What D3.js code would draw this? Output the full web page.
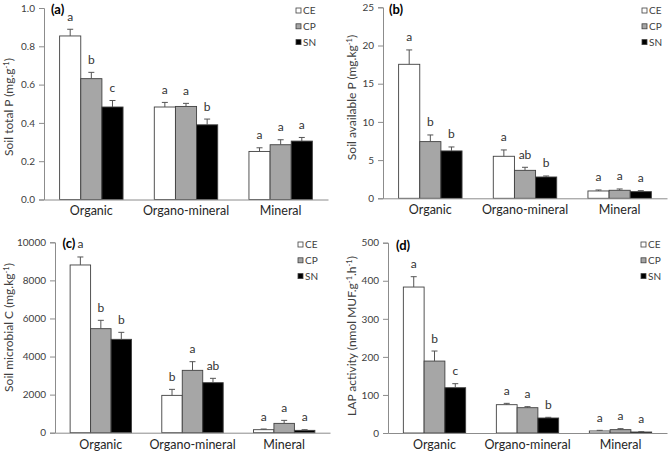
<!DOCTYPE html>
<html><head><meta charset="utf-8">
<script src="https://cdn.jsdelivr.net/npm/d3@7"></script>
<style>
html,body{margin:0;padding:0;background:#fff;}
svg{display:block;font-family:Lato,"Open Sans",sans-serif;}
</style></head>
<body>
<svg id="chart" width="669" height="465"></svg>
<script>
// ---------- data ----------
const categories = ["Organic", "Organo-mineral", "Mineral"];
const seriesNames = ["CE", "CP", "SN"];
const seriesColors = ["#ffffff", "#a6a6a6", "#000000"];

// values per category: [CE, CP, SN]
const totalPValues = [[0.854, 0.631, 0.483], [0.483, 0.486, 0.390], [0.251, 0.286, 0.305]];
const totalPErrors = [[0.035, 0.033, 0.034], [0.024, 0.016, 0.030], [0.019, 0.026, 0.019]];
const totalPLetters = [["a", "b", "c"], ["a", "a", "b"], ["a", "a", "a"]];
const totalPTicks = [0, 0.2, 0.4, 0.6, 0.8, 1.0];

const availPValues = [[17.54, 7.42, 6.20], [5.50, 3.66, 2.79], [0.96, 1.05, 0.87]];
const availPErrors = [[1.88, 0.87, 0.52], [0.83, 0.40, 0.13], [0.13, 0.17, 0.13]];
const availPLetters = [["a", "b", "b"], ["a", "ab", "b"], ["a", "a", "a"]];
const availPTicks = [0, 5, 10, 15, 20, 25];

const microCValues = [[8809, 5464, 4904], [1961, 3275, 2627], [158, 490, 123]];
const microCErrors = [[420, 438, 367], [316, 455, 228], [35, 158, 35]];
const microCLetters = [["a", "b", "b"], ["b", "a", "ab"], ["a", "a", "a"]];
const microCTicks = [0, 2000, 4000, 6000, 8000, 10000];

const lapValues = [[383.5, 189, 119], [74.4, 66.5, 39.4], [5.3, 8.8, 2.6]];
const lapErrors = [[27.2, 26.4, 10.6], [3.5, 2.7, 1.8], [1.7, 2.6, 0.9]];
const lapLetters = [["a", "b", "c"], ["a", "a", "b"], ["a", "a", "a"]];
const lapTicks = [0, 100, 200, 300, 400, 500];

// ---------- layout ----------
const panels = [
  {tag: "(a)", values: totalPValues, errors: totalPErrors, letters: totalPLetters, ticks: totalPTicks,
   fmt: d3.format(".1f"), title: ["Soil total P (mg.g", "-1", ")"],
   x0: 44, x1: 328, yTop: 8, yBot: 199.5, titleX: 9, titleY: 107, tagX: 51, tagY: 14, legX: 296, legY: 10.5},
  {tag: "(b)", values: availPValues, errors: availPErrors, letters: availPLetters, ticks: availPTicks,
   fmt: d3.format("d"), title: ["Soil available P (mg.kg", "-1", ")"],
   x0: 383, x1: 667, yTop: 7.3, yBot: 198.3, titleX: 352, titleY: 97.5, tagX: 389, tagY: 14, legX: 642, legY: 10.5},
  {tag: "(c)", values: microCValues, errors: microCErrors, letters: microCLetters, ticks: microCTicks,
   fmt: d3.format("d"), title: ["Soil microbial C (mg.kg", "-1", ")"],
   x0: 55, x1: 330, yTop: 242.3, yBot: 432.7, titleX: 9, titleY: 327.5, tagX: 62.5, tagY: 247.5, legX: 298, legY: 244.5},
  {tag: "(d)", values: lapValues, errors: lapErrors, letters: lapLetters, ticks: lapTicks,
   fmt: d3.format("d"), title: ["LAP activity (nmol MUF.g", "-1", ".h", "-1", ")"],
   x0: 388, x1: 667, yTop: 242.7, yBot: 433, titleX: 352, titleY: 336, tagX: 396, tagY: 249.5, legX: 641, legY: 244.5}
];

const svg = d3.select("#chart");
const axisColor = "#8c8c8c";
const textColor = "#404040";

panels.forEach(p => {
  const g = svg.append("g");
  const yMax = p.ticks[p.ticks.length - 1];
  const y = d3.scaleLinear().domain([0, yMax]).range([p.yBot, p.yTop]);
  const x = d3.scaleBand().domain(categories).range([p.x0, p.x1]).paddingInner(0).paddingOuter(0);
  const inner = d3.scaleBand().domain(seriesNames).range([0, x.bandwidth() * 0.67]);
  const groupOff = x.bandwidth() * 0.165;

  // y axis
  const yAxis = d3.axisLeft(y).tickValues(p.ticks).tickFormat(p.fmt).tickSizeOuter(0).tickSize(5).tickPadding(4);
  const ya = g.append("g").attr("transform", `translate(${p.x0},0)`).call(yAxis);
  ya.select(".domain").attr("stroke", axisColor);
  ya.selectAll(".tick line").attr("stroke", axisColor);
  ya.selectAll(".tick text").attr("fill", textColor).style("font-size", "10px").style("font-family", "Lato, sans-serif");

  // bars
  categories.forEach((cat, ci) => {
    seriesNames.forEach((s, si) => {
      const v = p.values[ci][si];
      const e = p.errors[ci][si];
      const bx = x(cat) + groupOff + inner(s);
      const bw = inner.bandwidth();
      g.append("rect")
        .attr("x", bx).attr("y", y(v))
        .attr("width", bw).attr("height", y(0) - y(v))
        .attr("fill", seriesColors[si]).attr("stroke", "#404040").attr("stroke-width", 0.9);
      const cx = bx + bw / 2;
      g.append("line").attr("x1", cx).attr("x2", cx).attr("y1", y(v)).attr("y2", y(v + e))
        .attr("stroke", "#555").attr("stroke-width", 1);
      g.append("line").attr("x1", cx - 3).attr("x2", cx + 3).attr("y1", y(v + e)).attr("y2", y(v + e))
        .attr("stroke", "#555").attr("stroke-width", 1);
      g.append("text").attr("x", cx).attr("y", y(v + e) - 8.5)
        .attr("text-anchor", "middle").attr("fill", "#333")
        .style("font-size", "12px").text(p.letters[ci][si]);
    });
  });

  // x axis
  const xAxis = d3.axisBottom(x).tickSize(0).tickPadding(7);
  const xa = g.append("g").attr("transform", `translate(0,${p.yBot})`).call(xAxis);
  xa.select(".domain").attr("stroke", axisColor);
  xa.selectAll(".tick text").attr("fill", "#262626").style("font-size", "12.5px").style("font-family", "Lato, sans-serif");

  // y title
  const t = g.append("text")
    .attr("transform", `translate(${p.titleX + 4},${p.titleY}) rotate(-90)`)
    .attr("text-anchor", "middle").attr("fill", textColor).style("font-size", "12px");
  p.title.forEach((part, i) => {
    const sup = part === "-1";
    const ts = t.append("tspan").text(part);
    if (sup) ts.attr("baseline-shift", "super").style("font-size", "7.5px");
  });

  // panel tag
  g.append("text").attr("x", p.tagX).attr("y", p.tagY).attr("fill", "#000")
    .style("font-size", "13px").style("font-weight", "bold").text(p.tag);

  // legend
  seriesNames.forEach((s, si) => {
    const ly = p.legY + si * 15.8;
    g.append("rect").attr("x", p.legX).attr("y", ly - 2.5).attr("width", 5).attr("height", 5)
      .attr("fill", seriesColors[si]).attr("stroke", "#404040").attr("stroke-width", 0.8);
    g.append("text").attr("x", p.legX + 7).attr("y", ly + 3.5).attr("fill", textColor)
      .style("font-size", "10px").text(s);
  });
});
</script>
</body></html>
